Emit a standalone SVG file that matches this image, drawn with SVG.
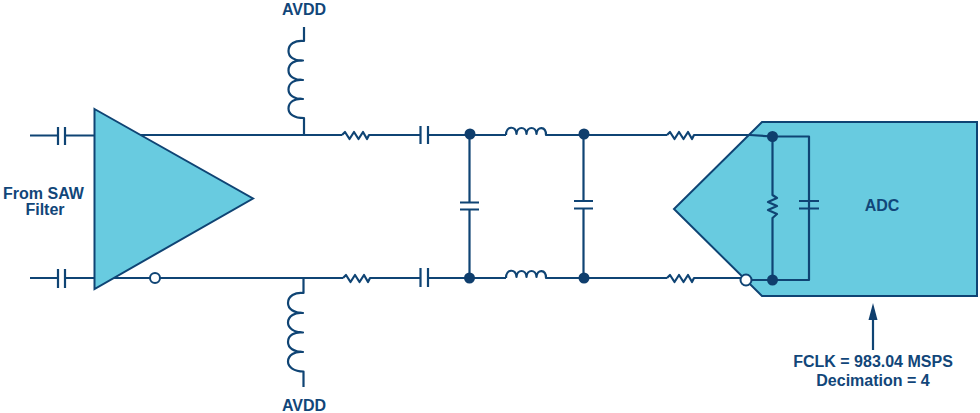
<svg xmlns="http://www.w3.org/2000/svg" width="980" height="413" viewBox="0 0 980 413">
<style>
.w{fill:none;stroke:#0f4474;stroke-width:2.200;stroke-linejoin:round}
.b{fill:#68cbe0;stroke:#0f4474;stroke-width:2;stroke-linejoin:miter}
.d{fill:#0f3e6d;stroke:none}
.o{fill:#fff;stroke:#0f4474;stroke-width:2}
text{font-family:"Liberation Sans",Arial,sans-serif;font-weight:700;font-size:16px;fill:#114679;text-anchor:middle}
</style>
<rect width="980" height="413" fill="#fff"/>
<g id="connectors" class="w">
<path d="M30 135.500H58M65 135.500H94M30 278H58M65 278H94"/>
<path d="M58 127V145M65 127V145M58 269V288M65 269V288"/>
<path d="M135 135H342M110 278H343"/>
<path d="M304 27V41C295 40 288.500 44 288.500 51C288.500 57 294 61 303 60.500C295 60 288.500 63 288.500 70.500C288.500 76 294 80 303 80C295 79 288.500 83 288.500 89.500C288.500 95 294 99 303 99C295 98 288.500 102 288.500 108.500C288.500 114 294 118 304 118V135"/>
<path d="M303.500 278V293C295 292 288 296 288 303C288 309 294 313 303 313C295 312 288 316 288 322.500C288 328 294 332.500 303 332.500C295 331.500 288 335 288 342C288 348 294 352 303 352C295 351 288 355 288 361.500C288 367 294 371.500 303.500 371.500V387"/>
<path d="M342 135L345 132L349.500 139L354 132L358.500 139L363 132L367 139L369 135H420.500M428 135H506"/>
<path d="M343 278L346 275L350.500 282L355 275L359.500 282L364 275L368 282L370 278H420.500M428 278H506"/>
<path d="M420.500 126V144M428 126V144M420.500 268V287M428 268V287"/>
<path d="M506 135C506 126 516 125 516.500 134C517 126 526 126 526.500 134C527 126 536 126 536.500 134C537 126 546 126 546 135H667"/>
<path d="M506 278C506 269 516 268 516.500 277C517 269 526 269 526.500 277C527 269 536 269 536.500 277C537 269 546 269 546 278H667"/>
<path d="M469.500 134V202M469.500 209V278M583.500 134V201M583.500 209V278"/>
<path d="M460 202.500H479M460 209.500H479M574 201H593M574 208.500H593"/>
<path d="M667 135L670 132L674.500 139L679 132L683.500 139L688 132L692 139L694 135H735"/>
<path d="M667 278L670 275L674.500 282L679 275L683.500 282L688 275L692 282L694 278H741"/>
</g>
<g id="amplifier"><polygon class="b" points="94.500,109 253,198.500 94.500,289"/></g>
<g id="adc">
<polygon class="b" points="762,122 977,122 977,296 762,296 674,209"/>
<path class="w" d="M733 135H750L772.500 136.500H809V280H741"/>
<path class="w" d="M772.500 136.500V195L777 198L768 202L777 206L768 210L777 214L772.500 218V280"/>
<path class="w" d="M799 201H819M799 208.500H819"/>
<text x="882" y="211">ADC</text>
</g>
<g id="dots">
<circle class="d" cx="470" cy="134" r="5.500"/><circle class="d" cx="584" cy="134" r="5.500"/>
<circle class="d" cx="469.500" cy="278" r="5.500"/><circle class="d" cx="584" cy="278" r="5.500"/>
<circle class="d" cx="772.500" cy="136.500" r="5.500"/><circle class="d" cx="772.500" cy="280" r="5.500"/>
<circle class="o" cx="155" cy="278" r="5"/><circle class="o" cx="746" cy="280" r="5.500"/>
</g>
<g id="labels">
<text x="304" y="15">AVDD</text>
<text x="304" y="411">AVDD</text>
<text x="43.500" y="199">From SAW</text>
<text x="45" y="215">Filter</text>
<text x="873" y="367">FCLK = 983.04 MSPS</text>
<text x="873" y="386">Decimation = 4</text>
</g>
<g id="clock-arrow">
<path class="w" d="M873 350V318"/>
<path class="d" d="M873 303L877.500 320H868.500Z"/>
</g>
</svg>
